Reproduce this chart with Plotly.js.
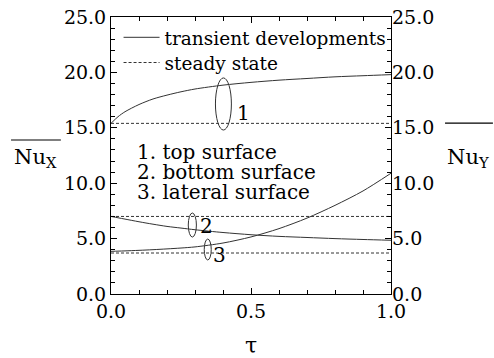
<!DOCTYPE html>
<html>
<head>
<meta charset="utf-8">
<script src="https://cdn.plot.ly/plotly-3.0.1.min.js"></script>
<style>html,body{margin:0;padding:0;background:#fff;}#chart{width:494px;height:358px;}</style>
</head>
<body>
<div id="chart"></div>
<script>
// ---- data ----
var tau = [0, 0.025, 0.05, 0.1, 0.15, 0.2, 0.25, 0.3, 0.4, 0.5, 0.6, 0.7, 0.8, 0.9, 1.0];
var topSurface     = [15.4, 16.0, 16.45, 17.1, 17.6, 17.95, 18.25, 18.5, 18.85, 19.1, 19.3, 19.45, 19.6, 19.7, 19.8];
var bottomSurface  = [7.0, 6.88, 6.76, 6.52, 6.3, 6.1, 5.95, 5.8, 5.55, 5.35, 5.2, 5.1, 5.0, 4.92, 4.85];
var lateralSurface = [3.85, 3.87, 3.89, 3.94, 4.0, 4.07, 4.15, 4.25, 4.6, 5.15, 5.9, 6.85, 8.0, 9.3, 10.9];
var steadyTau = [0, 1];
var steadyTop = [15.4, 15.4];
var steadyBottom = [7.0, 7.0];
var steadyLateral = [3.7, 3.7];
var legendNames = ["transient developments", "steady state"];
var surfaceLabels = ["1. top surface", "2. bottom surface", "3. lateral surface"];
var curveNumbers = ["1", "2", "3"];
var tickVals = [0, 5, 10, 15, 20, 25];

var FONT = "DejaVu Serif";
var solid = {color: "#333", width: 1, shape: "spline", smoothing: 0.8};
var dashed = {color: "#333", width: 1, dash: "3px,2px"};

var data = [
  {x: tau, y: topSurface, mode: "lines", line: solid, name: legendNames[0], showlegend: true, legend: "legend"},
  {x: steadyTau, y: steadyTop, mode: "lines", line: dashed, name: legendNames[1], showlegend: true, legend: "legend2"},
  {x: tau, y: bottomSurface, mode: "lines", line: solid, showlegend: false},
  {x: tau, y: lateralSurface, mode: "lines", line: solid, showlegend: false},
  {x: steadyTau, y: steadyBottom, mode: "lines", line: dashed, showlegend: false},
  {x: steadyTau, y: steadyLateral, mode: "lines", line: dashed, showlegend: false, yaxis: "y2"}
];

var tickFont = {family: FONT, size: 19, color: "#000"};
var legFont = {family: FONT, size: 18.5, color: "#000"};
var layout = {
  width: 494, height: 358,
  margin: {l: 111, r: 103, t: 17, b: 64},
  paper_bgcolor: "#fff", plot_bgcolor: "#fff",
  font: {family: FONT, size: 20, color: "#000"},
  showlegend: true,
  legend: {x: 0.027, y: 0.925, xanchor: "left", yanchor: "middle", bgcolor: "rgba(0,0,0,0)", font: legFont, itemwidth: 36},
  legend2: {x: 0.027, y: 0.834, xanchor: "left", yanchor: "middle", bgcolor: "rgba(0,0,0,0)", font: legFont, itemwidth: 36},
  xaxis: {range: [0, 1], tickvals: [0, 0.5, 1], tickformat: ".1f", ticks: "inside", ticklen: 6,
          tickcolor: "#000", showline: true, linecolor: "#000", linewidth: 1, mirror: "ticks",
          showgrid: false, zeroline: false, tickfont: tickFont,
          minor: {dtick: 0.1, tick0: 0, ticks: "inside", ticklen: 4, tickcolor: "#000", showgrid: false},
          title: {text: "τ", font: {family: FONT, size: 22}, standoff: 18}},
  yaxis: {range: [0, 25], tickvals: tickVals, tickformat: ".1f", ticks: "inside", ticklen: 6,
          tickcolor: "#000", showline: true, linecolor: "#000", linewidth: 1, mirror: true,
          showgrid: false, zeroline: false, tickfont: tickFont,
          minor: {dtick: 1, tick0: 0, ticks: "inside", ticklen: 4, tickcolor: "#000", showgrid: false}},
  yaxis2: {range: [0, 25], overlaying: "y", side: "right", tickvals: tickVals, tickformat: ".1f",
           ticks: "inside", ticklen: 6, tickcolor: "#000", showline: false, showgrid: false,
           zeroline: false, tickfont: tickFont,
           minor: {dtick: 1, tick0: 0, ticks: "inside", ticklen: 4, tickcolor: "#000", showgrid: false}},
  annotations: [
    {x: 0.086, y: 12.8, xref: "x", yref: "y", text: surfaceLabels[0], showarrow: false, xanchor: "left", yanchor: "middle"},
    {x: 0.086, y: 11.0, xref: "x", yref: "y", text: surfaceLabels[1], showarrow: false, xanchor: "left", yanchor: "middle"},
    {x: 0.086, y: 9.2, xref: "x", yref: "y", text: surfaceLabels[2], showarrow: false, xanchor: "left", yanchor: "middle"},
    {x: 0.473, y: 16.3, xref: "x", yref: "y", text: curveNumbers[0], showarrow: false, xanchor: "center"},
    {x: 0.34, y: 6.1, xref: "x", yref: "y", text: curveNumbers[1], showarrow: false, xanchor: "center"},
    {x: 0.387, y: 3.5, xref: "x", yref: "y", text: curveNumbers[2], showarrow: false, xanchor: "center"},
    {x: -0.271, y: 0.49, xref: "paper", yref: "paper", text: "Nu<sub>X</sub>", showarrow: false, xanchor: "center", font: {size: 21}},
    {x: 1.275, y: 0.49, xref: "paper", yref: "paper", text: "Nu<sub>Y</sub>", showarrow: false, xanchor: "center", font: {size: 21}}
  ],
  shapes: [
    {type: "circle", xref: "x", yref: "y", x0: 0.373, x1: 0.430, y0: 14.8, y1: 19.5, line: {color: "#333", width: 1}},
    {type: "circle", xref: "x", yref: "y", x0: 0.276, x1: 0.305, y0: 5.14, y1: 7.31, line: {color: "#333", width: 1}},
    {type: "circle", xref: "x", yref: "y", x0: 0.333, x1: 0.358, y0: 3.07, y1: 4.96, line: {color: "#333", width: 1}},
    {type: "line", xref: "paper", yref: "paper", x0: -0.357, x1: -0.179, y0: 0.556, y1: 0.556, line: {color: "#000", width: 1.2}},
    {type: "line", xref: "paper", yref: "paper", x0: 1.193, x1: 1.364, y0: 0.617, y1: 0.617, line: {color: "#000", width: 1.2}}
  ]
};

Plotly.newPlot("chart", data, layout, {displayModeBar: false, staticPlot: true});
</script>
</body>
</html>
